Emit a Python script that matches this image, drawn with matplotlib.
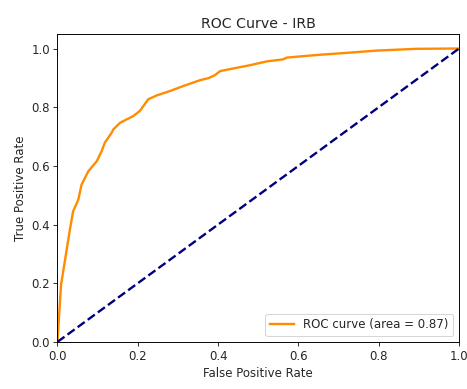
import matplotlib
matplotlib.use("Agg")
import matplotlib.pyplot as plt

# ROC curve points
fpr = [0.0, 0.009, 0.019, 0.031, 0.039, 0.052, 0.060, 0.077, 0.098, 0.110, 0.118,
       0.135, 0.139, 0.156, 0.189, 0.205, 0.214, 0.226, 0.247, 0.280, 0.313,
       0.355, 0.376, 0.392, 0.405, 0.438, 0.479, 0.521, 0.562, 0.571, 0.646,
       0.729, 0.795, 0.895, 1.0]
tpr = [0.0, 0.195, 0.28, 0.383, 0.445, 0.485, 0.536, 0.582, 0.616, 0.650, 0.679,
       0.713, 0.724, 0.747, 0.770, 0.787, 0.804, 0.827, 0.840, 0.855, 0.872,
       0.892, 0.899, 0.909, 0.923, 0.932, 0.943, 0.956, 0.963, 0.969, 0.978,
       0.986, 0.993, 0.999, 1.0]
roc_auc = 0.87

# the reference looks like a slightly upscaled notebook figure
scale = 1.18
plt.rcParams.update({
    "font.size": 10 * scale,
    "axes.linewidth": 0.8 * scale,
    "xtick.major.size": 3.5 * scale,
    "ytick.major.size": 3.5 * scale,
    "xtick.major.width": 0.8 * scale,
    "ytick.major.width": 0.8 * scale,
    "text.color": "#262626",
    "axes.labelcolor": "#262626",
    "xtick.color": "#262626",
    "ytick.color": "#262626",
})

fig = plt.figure(figsize=(467 / 72, 389 / 72), dpi=72)
ax = fig.add_axes([0.123, 0.121, 0.860, 0.792])

ax.plot(fpr, tpr, color="darkorange", lw=2 * scale, label=f"ROC curve (area = {roc_auc:.2f})")
ax.plot([0, 1], [0, 1], color="navy", lw=2 * scale, linestyle="--")
ax.set_xlim([0.0, 1.0])
ax.set_ylim([0.0, 1.05])
ax.set_xlabel("False Positive Rate")
ax.set_ylabel("True Positive Rate")
ax.set_title("ROC Curve - IRB")
ax.legend(loc="lower right")

fig.savefig("out.png", dpi=72)
